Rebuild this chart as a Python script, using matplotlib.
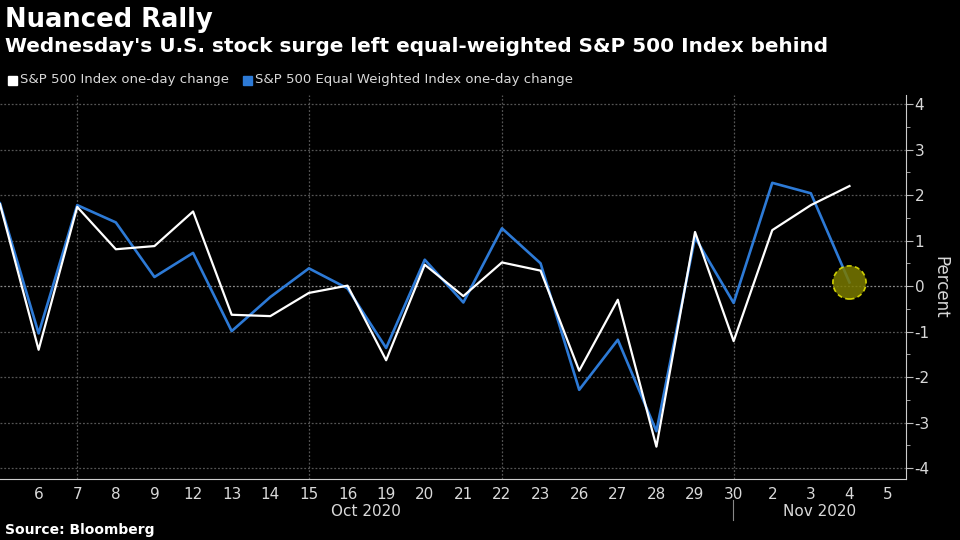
import numpy as np
import matplotlib.pyplot as plt
from matplotlib.patches import Ellipse

# trading days, Oct 5 2020 .. Nov 4 2020
days = ['5', '6', '7', '8', '9', '12', '13', '14', '15', '16', '19', '20', '21',
        '22', '23', '26', '27', '28', '29', '30', '2', '3', '4']
spx = [1.80, -1.40, 1.74, 0.81, 0.88, 1.64, -0.63, -0.66, -0.15, 0.01, -1.63,
       0.47, -0.22, 0.52, 0.34, -1.86, -0.30, -3.53, 1.19, -1.21, 1.23, 1.78, 2.20]
eqw = [1.82, -1.04, 1.78, 1.40, 0.20, 0.73, -0.99, -0.24, 0.39, -0.05, -1.36,
       0.58, -0.36, 1.27, 0.50, -2.28, -1.18, -3.19, 1.07, -0.37, 2.27, 2.04, 0.08]
tick_labels = days[1:] + ['5']
week_grid = ['7', '15', '22', '30']

title = 'Nuanced Rally'
subtitle = "Wednesday's U.S. stock surge left equal-weighted S&P 500 Index behind"
legend_labels = ['S&P 500 Index one-day change', 'S&P 500 Equal Weighted Index one-day change']

white = '#ffffff'
blue = '#2d7ad6'
grid_c = '#555555'
txt = '#d9d9d9'

fig = plt.figure(figsize=(9.6, 5.4), dpi=100, facecolor='black')
ax = fig.add_axes([0.0, 0.113, 0.944, 0.711], facecolor='black')

x = np.arange(len(days))
ax.plot(x, spx, color=white, lw=1.6, zorder=3)
ax.plot(x, eqw, color=blue, lw=1.9, zorder=2)

# highlight last point of equal-weighted
ax.add_patch(Ellipse((x[-1], eqw[-1]), 0.86, 0.73, facecolor='#7a7a00', alpha=0.85,
                     edgecolor='#e8e800', ls=(0, (3, 2)), lw=1.2, zorder=4))

ax.set_xlim(0, 23.47)
ax.set_ylim(-4.24, 4.2)

for v in range(-4, 5):
    ax.axhline(v, color='#8a8a8a' if v == 0 else grid_c, lw=0.9,
               ls=(0, (1.5, 1.5)), zorder=1)
for d in week_grid:
    ax.axvline(days.index(d), color=grid_c, lw=0.9, ls=(0, (1.5, 1.5)), zorder=1)

ax.set_xticks(np.arange(1, len(tick_labels) + 1))
ax.set_xticklabels(tick_labels, color=txt, fontsize=11)
ax.tick_params(axis='x', length=0, pad=6)

ax.yaxis.tick_right()
ax.yaxis.set_label_position('right')
ax.set_yticks(range(-4, 5))
ax.set_yticks(np.arange(-3.5, 4, 1), minor=True)
ax.set_yticklabels([str(v) for v in range(-4, 5)], color=txt, fontsize=11)
ax.tick_params(axis='y', which='major', length=5, color='#bbbbbb', pad=1)
ax.tick_params(axis='y', which='minor', length=3, color='#bbbbbb')
ax.set_ylabel('Percent', color=txt, fontsize=12, rotation=270, labelpad=14)

for s in ['top', 'left']:
    ax.spines[s].set_visible(False)
ax.spines['bottom'].set_color('#cccccc')
ax.spines['right'].set_color('#cccccc')

# month labels
fig.text(366 / 960, 1 - 511 / 540, 'Oct 2020', color=txt, fontsize=11, ha='center', va='center')
fig.text(820 / 960, 1 - 511 / 540, 'Nov 2020', color=txt, fontsize=11, ha='center', va='center')
fig.add_artist(plt.Line2D([733 / 960, 733 / 960], [1 - 500 / 540, 1 - 520 / 540],
                          color='#888888', lw=0.8))

fig.text(0.005, 1 - 20 / 540, title, color='white', fontsize=18.6, fontweight='bold', va='center')
fig.text(0.005, 1 - 47 / 540, subtitle, color='white', fontsize=14.4, fontweight='bold', va='center')

# legend
fig.patches.append(plt.Rectangle((8 / 960, 1 - 85 / 540), 9 / 960, 9 / 540, color=white,
                                 transform=fig.transFigure, figure=fig))
fig.text(20 / 960, 1 - 80 / 540, legend_labels[0], color=txt, fontsize=9.5, va='center')
fig.patches.append(plt.Rectangle((243 / 960, 1 - 85 / 540), 9 / 960, 9 / 540, color=blue,
                                 transform=fig.transFigure, figure=fig))
fig.text(255 / 960, 1 - 80 / 540, legend_labels[1], color=txt, fontsize=9.5, va='center')

fig.text(0.005, 1 - 530 / 540, 'Source: Bloomberg', color='white', fontsize=10,
         fontweight='bold', va='center')

fig.savefig('out.png', dpi=100, facecolor='black')
